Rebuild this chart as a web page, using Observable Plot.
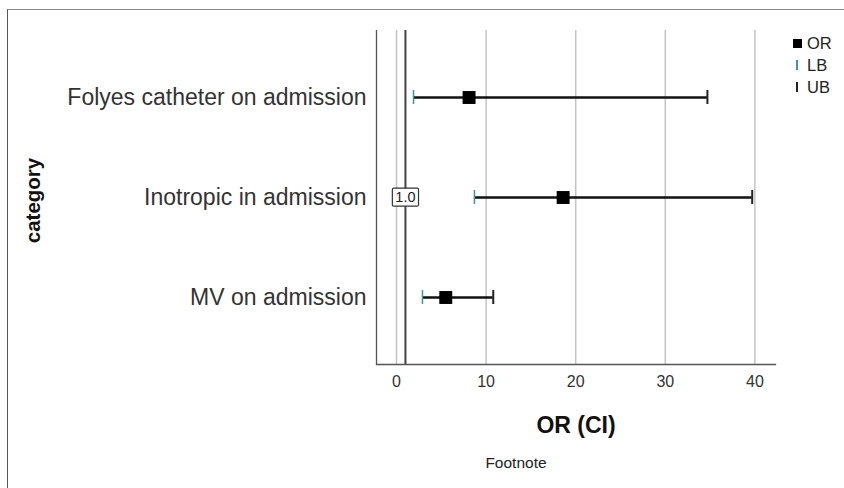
<!DOCTYPE html>
<html><head><meta charset="utf-8">
<script src="https://cdn.jsdelivr.net/npm/d3@7"></script>
<script src="https://cdn.jsdelivr.net/npm/@observablehq/plot@0.6"></script>
<style>
body{margin:0;background:#fff;font-family:"Liberation Sans",Arial,sans-serif;}
#wrap{position:relative;width:844px;height:488px;overflow:hidden;background:#fff;}
#border{position:absolute;left:7px;top:9px;width:900px;height:600px;border-left:1.5px solid #555;border-top:1.5px solid #888;z-index:5;pointer-events:none;}
#chart{position:absolute;left:0;top:0;}
#legend{position:absolute;left:791px;top:32px;font-size:16.5px;color:#222;line-height:22px;z-index:6;}
#legend div{display:flex;align-items:center;}
#legend .sw{width:12px;display:inline-flex;justify-content:center;margin-right:4px;}
</style></head>
<body><div id="wrap"><div id="border"></div><div id="chart"></div>
<div id="legend">
<div><span class="sw"><span style="display:inline-block;width:9px;height:9px;background:#000"></span></span>OR</div>
<div><span class="sw"><span style="display:inline-block;width:1.5px;height:10px;background:#3d9a8a"></span></span>LB</div>
<div><span class="sw"><span style="display:inline-block;width:1.5px;height:10px;background:#222"></span></span>UB</div>
</div></div>
<script>
const categories = ["Folyes catheter on admission", "Inotropic in admission", "MV on admission"];
const orValues = [8.1, 18.6, 5.5];
const lbValues = [1.9, 8.7, 2.9];
const ubValues = [34.7, 39.7, 10.8];
const xTicks = [0, 10, 20, 30, 40];
const refValue = 1.0;
const refLabelCategory = "Inotropic in admission";

const data = categories.map((c, i) => ({category: c, or: orValues[i], lb: lbValues[i], ub: ubValues[i]}));

const font = "Liberation Sans, Arial, sans-serif";
const chart = Plot.plot({
  width: 844, height: 488,
  marginLeft: 376, marginRight: 69, marginTop: 30, marginBottom: 124,
  style: {fontFamily: font, color: "#222", background: "transparent"},
  x: {domain: [-2.23, 42.3], ticks: xTicks, label: null},
  y: {domain: categories, paddingInner: 0.86, paddingOuter: 0.59, label: null},
  marks: [
    Plot.ruleX(xTicks, {stroke: "#c4c4c4", strokeWidth: 1.5}),
    Plot.ruleX([-2.23], {stroke: "#555", strokeWidth: 1.3}),
    Plot.frame({anchor: "bottom", stroke: "#555", strokeWidth: 1.3}),
    Plot.ruleX([refValue], {stroke: "#444", strokeWidth: 2}),
    Plot.ruleY(data, {y: "category", x1: "lb", x2: "ub", stroke: "#111", strokeWidth: 2.5}),
    Plot.tickX(data, {x: "lb", y: "category", stroke: "#3d9a8a", strokeWidth: 1.5}),
    Plot.tickX(data, {x: "ub", y: "category", stroke: "#222", strokeWidth: 2}),
    Plot.dot(data, {x: "or", y: "category", symbol: "square", r: 7.3, fill: "#000"}),
    Plot.text([refValue], {x: d => d, y: () => refLabelCategory, text: d => d.toFixed(1), fontSize: 14.5, fill: "#222"}),
    Plot.text(["OR (CI)"], {frameAnchor: "bottom", dy: 68, fontSize: 23, fontWeight: "bold", fill: "#111"}),
    Plot.text(["Footnote"], {frameAnchor: "bottom", dx: -60, dy: 103, fontSize: 15.5, fill: "#222"}),
    Plot.text(["category"], {frameAnchor: "left", textAnchor: "middle", dx: -343, dy: 3, rotate: -90, fontSize: 20.5, fontWeight: "bold", fill: "#111"}),
    Plot.axisX({ticks: xTicks, tickSize: 0, tickPadding: 11, fontSize: 16, fill: "#333", label: null}),
    Plot.axisY({tickSize: 0, tickPadding: 10, fontSize: 23, fill: "#333", label: null})
  ]
});
document.getElementById("chart").appendChild(chart);
// white box behind the reference label
d3.select(chart).selectAll("text").filter(function() { return this.textContent === refValue.toFixed(1); }).each(function() {
  const b = this.getBBox();
  const host = this.parentNode;
  d3.select(host).insert("rect", () => this)
    .attr("x", b.x - 3).attr("y", b.y - 1).attr("width", b.width + 6).attr("height", b.height + 2)
    .attr("transform", this.getAttribute("transform"))
    .attr("fill", "#fff").attr("stroke", "#333").attr("stroke-width", 1.2).attr("rx", 1.5);
});
</script></body></html>
